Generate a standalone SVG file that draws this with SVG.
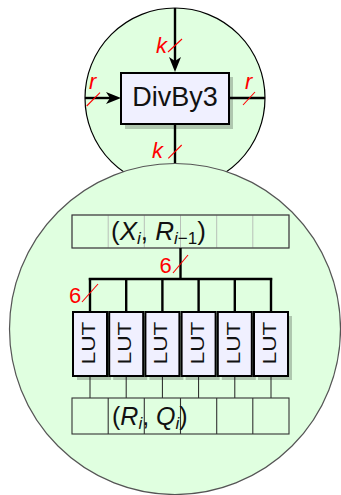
<svg xmlns="http://www.w3.org/2000/svg" width="341" height="495" viewBox="0 0 341 495">
  <style>
    .zone { fill: #e0ffe0; }
    .box { fill: #f0f0ff; stroke: #000; stroke-width: 2; }
    .shadow { fill: #000; opacity: 0.22; }
    .wire { stroke: #000; stroke-width: 2.4; fill: none; }
    .thin { stroke: #222; stroke-width: 1; fill: none; }
    .slash { stroke: #ff0000; stroke-width: 1.1; fill: none; }
    .lbl { font-family: "Liberation Sans", Arial, sans-serif; fill: #ff0000; font-size: 22px; }
    .it { font-style: italic; }
    .txt { font-family: "Liberation Sans", Arial, sans-serif; fill: #111; }
    .reg { fill: none; stroke: #333; stroke-width: 1.1; }
    .regl { fill: none; stroke: #b8c0b8; stroke-width: 1; }
  </style>

  <!-- outer view of the divider -->
  <g id="outer">
    <circle class="zone" cx="175" cy="98" r="90" stroke="#000" stroke-width="1.2"/>
  </g>

  <g id="connectors">
    <line class="wire" x1="175" y1="8" x2="175" y2="62"/>
    <path d="M175,72 L169,57 L175,61 L181,57 Z" fill="#000"/>
    <line class="wire" x1="85" y1="98" x2="110" y2="98"/>
    <path d="M121,98 L106,92 L110,98 L106,104 Z" fill="#000"/>
    <line class="wire" x1="229" y1="98" x2="265" y2="98"/>
    <line class="wire" x1="175" y1="123" x2="175" y2="166"/>
  </g>

  <g id="divby3">
    <rect class="shadow" x="125" y="77" width="108" height="52"/>
    <rect class="box" x="121" y="73" width="108" height="51"/>
    <text class="txt" x="175" y="106" font-size="27" text-anchor="middle">DivBy3</text>
  </g>

  <g id="bus-labels-top">
    <text class="lbl it" x="156" y="53">k</text>
    <line class="slash" x1="168" y1="52" x2="182" y2="39"/>
    <text class="lbl it" x="89" y="89">r</text>
    <line class="slash" x1="86.7" y1="106" x2="100" y2="92.7"/>
    <text class="lbl it" x="245" y="89">r</text>
    <line class="slash" x1="243" y1="105" x2="255" y2="92"/>
    <text class="lbl it" x="152" y="158">k</text>
    <line class="slash" x1="168.3" y1="158.3" x2="181.7" y2="145"/>
  </g>

  <!-- inner view: LUT array -->
  <g id="inner">
    <circle class="zone" cx="175" cy="329" r="165.5" stroke="#555" stroke-width="1.2"/>
  </g>

  <g id="reg-in">
    <rect class="regl" x="72" y="215" width="217" height="33"/>
    <line class="regl" x1="108.2" y1="215" x2="108.2" y2="248"/>
    <line class="regl" x1="144.3" y1="215" x2="144.3" y2="248"/>
    <line class="regl" x1="180.5" y1="215" x2="180.5" y2="248"/>
    <line class="regl" x1="216.7" y1="215" x2="216.7" y2="248"/>
    <line class="regl" x1="252.8" y1="215" x2="252.8" y2="248"/>
    <rect class="reg" x="72" y="215" width="217" height="33" stroke="#555"/>
    <text class="txt" x="111" y="240" font-size="26">(<tspan font-style="italic">X</tspan><tspan font-style="italic" font-size="17" dy="4">i</tspan><tspan dy="-4">, </tspan><tspan font-style="italic">R</tspan><tspan font-size="17" dy="4"><tspan font-style="italic">i</tspan>−1</tspan><tspan dy="-4">)</tspan></text>
  </g>

  <g id="bus">
    <line class="wire" x1="180.5" y1="248" x2="180.5" y2="279"/>
    <line class="wire" x1="88.8" y1="279" x2="272.2" y2="279"/>
    <line class="wire" x1="90" y1="278" x2="90" y2="312"/>
    <line class="wire" x1="126.2" y1="278" x2="126.2" y2="312"/>
    <line class="wire" x1="162.4" y1="278" x2="162.4" y2="312"/>
    <line class="wire" x1="198.6" y1="278" x2="198.6" y2="312"/>
    <line class="wire" x1="234.8" y1="278" x2="234.8" y2="312"/>
    <line class="wire" x1="271" y1="278" x2="271" y2="312"/>
    <line class="thin" x1="90" y1="376" x2="90" y2="398"/>
    <line class="thin" x1="126.2" y1="376" x2="126.2" y2="398"/>
    <line class="thin" x1="162.4" y1="376" x2="162.4" y2="398"/>
    <line class="thin" x1="198.6" y1="376" x2="198.6" y2="398"/>
    <line class="thin" x1="234.8" y1="376" x2="234.8" y2="398"/>
    <line class="thin" x1="271" y1="376" x2="271" y2="398"/>
    <text class="lbl" x="159.5" y="272.5" font-size="20">6</text>
    <line class="slash" x1="173" y1="273" x2="188" y2="255"/>
    <text class="lbl" x="69" y="302.5" font-size="20">6</text>
    <line class="slash" x1="82" y1="302" x2="98" y2="284"/>
  </g>

  <g id="lut1">
    <rect class="shadow" x="77" y="316" width="34" height="64"/>
    <rect class="box" x="73" y="312" width="34" height="64"/>
    <text class="txt" transform="translate(95,343) rotate(-90)" font-size="18" text-anchor="middle" textLength="43" lengthAdjust="spacingAndGlyphs">LUT</text>
  </g>
  <g id="lut2">
    <rect class="shadow" x="113.2" y="316" width="34" height="64"/>
    <rect class="box" x="109.2" y="312" width="34" height="64"/>
    <text class="txt" transform="translate(131.2,343) rotate(-90)" font-size="18" text-anchor="middle" textLength="43" lengthAdjust="spacingAndGlyphs">LUT</text>
  </g>
  <g id="lut3">
    <rect class="shadow" x="149.4" y="316" width="34" height="64"/>
    <rect class="box" x="145.4" y="312" width="34" height="64"/>
    <text class="txt" transform="translate(167.4,343) rotate(-90)" font-size="18" text-anchor="middle" textLength="43" lengthAdjust="spacingAndGlyphs">LUT</text>
  </g>
  <g id="lut4">
    <rect class="shadow" x="185.6" y="316" width="34" height="64"/>
    <rect class="box" x="181.6" y="312" width="34" height="64"/>
    <text class="txt" transform="translate(203.6,343) rotate(-90)" font-size="18" text-anchor="middle" textLength="43" lengthAdjust="spacingAndGlyphs">LUT</text>
  </g>
  <g id="lut5">
    <rect class="shadow" x="221.8" y="316" width="34" height="64"/>
    <rect class="box" x="217.8" y="312" width="34" height="64"/>
    <text class="txt" transform="translate(239.8,343) rotate(-90)" font-size="18" text-anchor="middle" textLength="43" lengthAdjust="spacingAndGlyphs">LUT</text>
  </g>
  <g id="lut6">
    <rect class="shadow" x="258" y="316" width="34" height="64"/>
    <rect class="box" x="254" y="312" width="34" height="64"/>
    <text class="txt" transform="translate(276,343) rotate(-90)" font-size="18" text-anchor="middle" textLength="43" lengthAdjust="spacingAndGlyphs">LUT</text>
  </g>

  <g id="reg-out">
    <rect class="reg" x="72" y="398" width="217" height="36"/>
    <line class="reg" x1="108.2" y1="398" x2="108.2" y2="434"/>
    <line class="reg" x1="144.3" y1="398" x2="144.3" y2="434"/>
    <line class="reg" x1="180.5" y1="398" x2="180.5" y2="434"/>
    <line class="reg" x1="216.7" y1="398" x2="216.7" y2="434"/>
    <line class="reg" x1="252.8" y1="398" x2="252.8" y2="434"/>
    <text class="txt" x="112" y="425" font-size="25">(<tspan font-style="italic">R</tspan><tspan font-style="italic" font-size="17" dy="4">i</tspan><tspan dy="-4">, </tspan><tspan font-style="italic">Q</tspan><tspan font-style="italic" font-size="17" dy="4">i</tspan><tspan dy="-4">)</tspan></text>
  </g>
</svg>
